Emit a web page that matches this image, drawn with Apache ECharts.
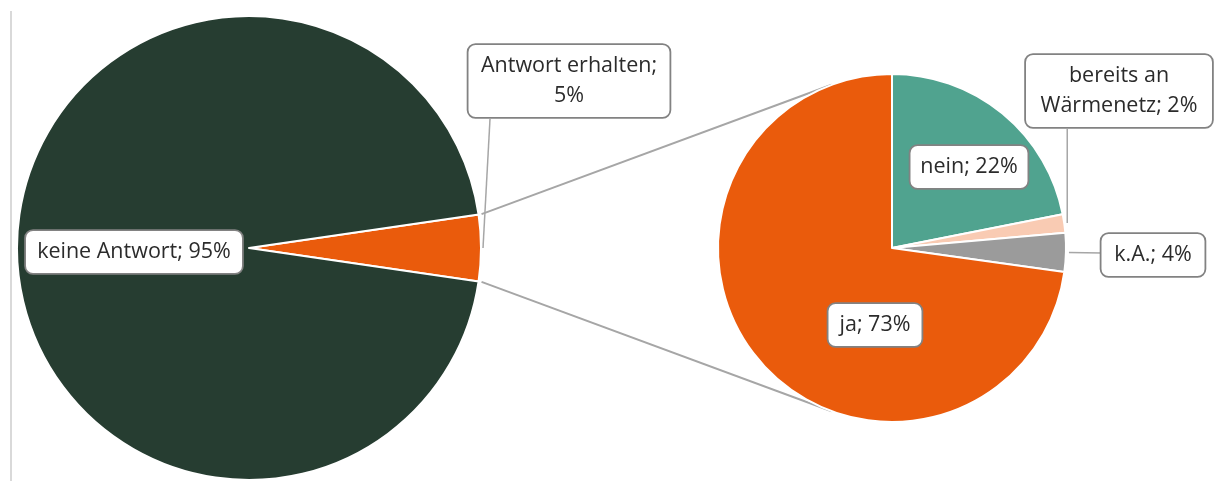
<!DOCTYPE html>
<html>
<head>
<meta charset="utf-8">
<script src="https://cdn.jsdelivr.net/npm/echarts@6/dist/echarts.min.js"></script>
<style>html,body{margin:0;padding:0;background:#fff}#c{width:1214px;height:481px}</style>
</head>
<body>
<div id="c"></div>
<script>
// ---- data ----
const mainCategories = ['Antwort erhalten', 'keine Antwort'];
const mainValues = [4.6, 95.4];
const subCategories = ['nein', 'bereits an\nWärmenetz', 'k.A.', 'ja'];
const subValues = [21.9, 1.7, 3.6, 72.8];

// ---- styles / layout ----
const mainColors = ['#ea5b0c', '#263d31'];
const subColors = ['#50a38f', '#f9cbb3', '#9b9b9b', '#ea5b0c'];
const mainCenter = [249, 248], mainR = 232;
const subCenter = [892, 248], subR = 174;
const mainLabelPos = [[569, 81], [134, 252]];
const subLabelPos = [[969, 167], [1119, 91], [1153, 255], [875, 325]];
const mainLabelW = [179, 194];
const subLabelW = [95, 164, 81, 71];
const lineColor = '#a6a6a6';

const sum = a => a.reduce((s, v) => s + v, 0);
function sliceAngles(values, start) {
  const t = sum(values); let a = start;
  return values.map(v => { const s = a; a -= v / t * 360; return [s, a]; });
}
function pt(c, r, deg) { const t = deg * Math.PI / 180; return [c[0] + r * Math.cos(t), c[1] - r * Math.sin(t)]; }
function tangent(P, C, r, sign) {
  const dx = C[0] - P[0], dy = C[1] - P[1];
  const d = Math.hypot(dx, dy), base = Math.atan2(dy, dx);
  const a = Math.asin(r / d), L = Math.sqrt(d * d - r * r), ang = base + sign * a;
  return [P[0] + L * Math.cos(ang), P[1] + L * Math.sin(ang)];
}

const mainStart = mainValues[0] / sum(mainValues) * 180;
const mainAng = sliceAngles(mainValues, mainStart);
const subAng = sliceAngles(subValues, 90);
const mid = a => (a[0] + a[1]) / 2;

const boxLabel = {
  show: true, position: 'outside', color: '#2b2b2b', fontFamily: 'Open Sans', fontSize: 21.5, lineHeight: 30,
  backgroundColor: '#ffffff', borderColor: '#828282', borderWidth: 1.8, borderRadius: 7,
  padding: [6, 11], align: 'center', overflow: 'none'
};

function mainLayout(p) {
  const i = p.dataIndex, pos = mainLabelPos[i];
  const o = { x: pos[0], y: pos[1], align: 'center', verticalAlign: 'middle' };
  if (i === 0) {
    const a = pt(mainCenter, mainR + 2, mid(mainAng[0]));
    o.labelLinePoints = [a, a, [pos[0] - 79, pos[1] + 38]];
  }
  return o;
}
function subLayout(p) {
  const i = p.dataIndex, pos = subLabelPos[i];
  const o = { x: pos[0], y: pos[1], align: 'center', verticalAlign: 'middle' };
  if (i === 1) {
    const a = pt(subCenter, subR + 3, mid(subAng[1]));
    o.labelLinePoints = [a, a, [a[0], pos[1] + 38]];
  } else if (i === 2) {
    const a = pt(subCenter, subR + 3, mid(subAng[2]));
    o.labelLinePoints = [a, a, [pos[0] - 51, pos[1] - 2]];
  }
  return o;
}

// connector lines between the two pies
const upStart = pt(mainCenter, mainR + 3, mainAng[0][0]);
const loStart = pt(mainCenter, mainR + 3, mainAng[0][1]);
const upEnd = tangent(upStart, subCenter, subR, -1);
const loEnd = tangent(loStart, subCenter, subR, 1);

const chart = echarts.init(document.getElementById('c'), null, { renderer: 'canvas' });
chart.setOption({
  animation: false,
  backgroundColor: '#ffffff',
  graphic: [
    { type: 'line', z: 0, shape: { x1: 11, y1: 11, x2: 11, y2: 481 }, style: { stroke: '#d9d9d9', lineWidth: 2 } },
    { type: 'line', z: 0, shape: { x1: upStart[0], y1: upStart[1], x2: upEnd[0], y2: upEnd[1] }, style: { stroke: lineColor, lineWidth: 2 } },
    { type: 'line', z: 0, shape: { x1: loStart[0], y1: loStart[1], x2: loEnd[0], y2: loEnd[1] }, style: { stroke: lineColor, lineWidth: 2 } }
  ],
  series: [
    {
      type: 'pie', center: mainCenter, radius: mainR, startAngle: mainStart, clockwise: true,
      avoidLabelOverlap: false, percentPrecision: 1, emphasis: { disabled: true },
      itemStyle: { borderColor: '#ffffff', borderWidth: 2 },
      data: mainCategories.map((n, i) => ({
        name: n, value: mainValues[i], itemStyle: { color: mainColors[i] },
        label: { width: mainLabelW[i] }, labelLine: { show: i === 0 }
      })),
      label: Object.assign({}, boxLabel, {
        formatter: p => p.name + (p.dataIndex === 0 ? ';\n' : '; ') + Math.round(p.percent) + '%'
      }),
      labelLine: { show: true, lineStyle: { color: lineColor, width: 1.5 } },
      labelLayout: mainLayout
    },
    {
      type: 'pie', center: subCenter, radius: subR, startAngle: 90, clockwise: true,
      avoidLabelOverlap: false, percentPrecision: 1, emphasis: { disabled: true },
      itemStyle: { borderColor: '#ffffff', borderWidth: 2 },
      data: subCategories.map((n, i) => ({
        name: n, value: subValues[i], itemStyle: { color: subColors[i] },
        label: { width: subLabelW[i] }, labelLine: { show: i === 1 || i === 2 }
      })),
      label: Object.assign({}, boxLabel, {
        formatter: p => p.name + '; ' + Math.round(p.percent) + '%'
      }),
      labelLine: { show: true, lineStyle: { color: lineColor, width: 1.5 } },
      labelLayout: subLayout
    }
  ]
});
</script>
</body>
</html>
